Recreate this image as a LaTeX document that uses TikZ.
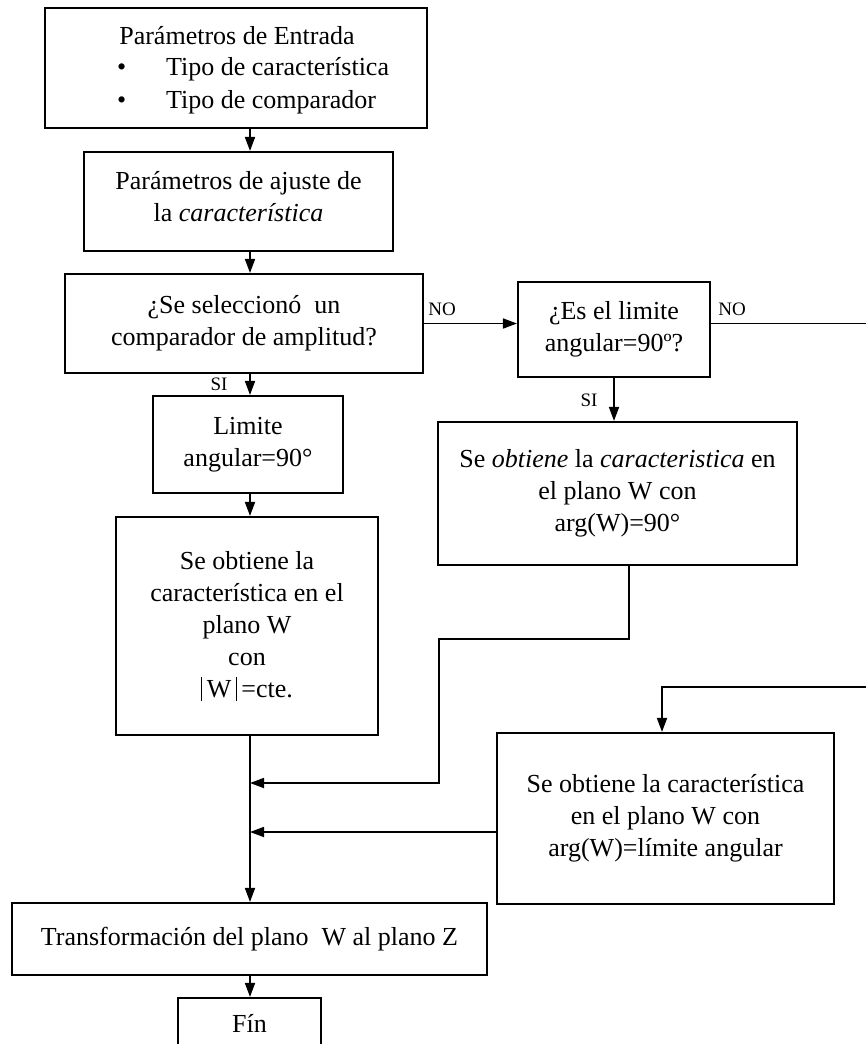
\documentclass[tikz,border=0pt]{standalone}
\usepackage{fontspec}
\setmainfont{Liberation Serif}
\usetikzlibrary{arrows.meta}
\newcommand{\wbar}{\rule[-4pt]{1.3pt}{24pt}}
\begin{document}
\begin{tikzpicture}[x=1pt,y=-1pt,
  box/.style={draw, line width=2.1pt, inner sep=0pt, align=center, font=\fontsize{26}{32}\selectfont},
  txt/.style={inner sep=0pt, font=\fontsize{26}{32}\selectfont},
  lbl/.style={inner sep=0pt, font=\fontsize{19}{22}\selectfont},
  conn/.style={line width=1.7pt},
  arr/.style={conn, -{Triangle[length=14pt,width=10pt]}}]
\fill[white] (0,0) rectangle (866,1044);
\useasboundingbox (0,0) rectangle (866,1044);
\clip (0,0) rectangle (866,1044);

% boxes
\node[box, minimum width=382pt, minimum height=120pt] (b1) at (236,68) {};
\node[txt] (b1t) at (237,36) {Parámetros de Entrada};
\node[txt, anchor=west] (b1a) at (117,69) {\makebox[49pt][l]{•}Tipo de característica};
\node[txt, anchor=west] (b1b) at (117,102) {\makebox[49pt][l]{•}Tipo de comparador};

\node[box, minimum width=309pt, minimum height=99pt] (b2) at (238.5,201.5) {};
\node[txt, align=center] (b2t) at (238.5,197) {Parámetros de ajuste de\\la \textit{característica}};
\node[box, minimum width=358pt, minimum height=99pt] (b3) at (244,323.5) {¿Se seleccionó\ \ un\\comparador de amplitud?};
\node[box, minimum width=190pt, minimum height=97pt] (b4) at (248,444.5) {Limite\\angular=90°};
\node[box, minimum width=262pt, minimum height=218pt] (b5) at (247,626) {Se obtiene la\\característica en el\\plano W\\con\\\wbar\,W\,\wbar\,=cte.};
\node[box, minimum width=192pt, minimum height=95pt] (b8) at (614,329.5) {¿Es el limite\\angular=90º?};
\node[box, minimum width=359pt, minimum height=143pt] (b7) at (617.5,493.5) {Se \textit{obtiene} la \textit{caracteristica} en\\el plano W con\\arg(W)=90°};
\node[box, minimum width=337pt, minimum height=171pt] (b6) at (665.5,818.5) {Se obtiene la característica\\en el plano W con\\arg(W)=límite angular};
\node[box, minimum width=475pt, minimum height=72pt] (bT) at (249.5,939) {Transformación del plano\ \ W al plano Z};
\node[box, minimum width=143pt, minimum height=50pt] (bF) at (249.5,1023) {Fín};

% helper coordinates
\coordinate (ax) at (250,0);
\coordinate (rx) at (880,0);
\coordinate (b6in) at (662,687);
\coordinate (b7out) at (629,639);
\coordinate (b7x) at (439,783);
\coordinate (b6y) at (0,832);

% connectors
\draw[arr] (b1.south -| ax) -- (b2.north -| ax);
\draw[arr] (b2.south -| ax) -- (b3.north -| ax);
\draw[arr] (b3.south -| ax) -- (b4.north -| ax);
\draw[arr] (b4.south -| ax) -- (b5.north -| ax);
\draw[arr] (b5.south -| ax) -- (bT.north -| ax);
\draw[arr] (bT.south -| ax) -- (bF.north -| ax);
\draw[arr] (b3.east) -- (b3.east -| b8.west);
\draw[arr] (b8.south) -- (b8.south |- b7.north);
\draw[arr] (b3.east -| b8.east) -- (b3.east -| rx) |- (b6in) -- (b6in |- b6.north);
\draw[arr] (b7.south -| b7out) -- (b7out) -| (b7x) -- (b7x -| ax);
\draw[arr] (b6.west |- b6y) -- (ax |- b6y);

% labels
\node[lbl] (no1) at (442,309) {NO};
\node[lbl] (no2) at (732,309) {NO};
\node[lbl] (si1) at (219,384) {SI};
\node[lbl] (si2) at (589,400) {SI};
\end{tikzpicture}
\end{document}
